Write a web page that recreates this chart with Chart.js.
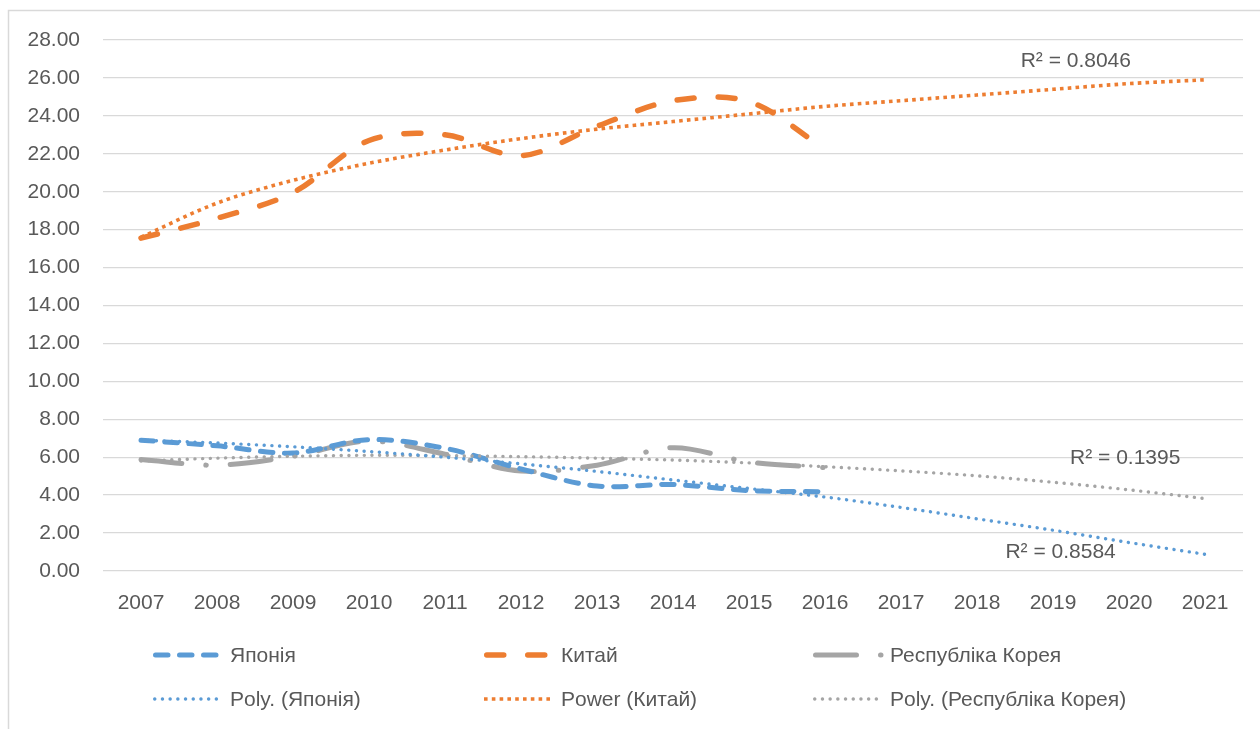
<!DOCTYPE html>
<html>
<head>
<meta charset="utf-8">
<script src="https://cdn.jsdelivr.net/npm/chart.js@4.4.1/dist/chart.umd.min.js"></script>
<style>
  html, body { margin: 0; padding: 0; background: #fff; }
  #wrap { width: 1260px; height: 729px; }
</style>
</head>
<body>
<div id="wrap"><canvas id="chart" width="1260" height="729"></canvas></div>
<script>
// categories
var years = ['2007', '2008', '2009', '2010', '2011', '2012', '2013', '2014',
             '2015', '2016', '2017', '2018', '2019', '2020', '2021'];

// series values (2007-2016)
var japan = [6.9, 6.6, 6.22, 6.93, 6.47, 5.38, 4.48, 4.56, 4.24, 4.18];
var china = [17.55, 18.6, 19.95, 22.7, 23.0, 21.9, 23.45, 24.8, 24.75, 22.25];
var korea = [5.88, 5.58, 6.05, 6.85, 6.16, 5.27, 5.58, 6.5, 5.75, 5.45];

// trendlines (2007-2021)
var japanPoly = [6.9, 6.75, 6.55, 6.3, 6.0, 5.65, 5.25, 4.8, 4.35, 3.9, 3.35, 2.75, 2.15, 1.5, 0.88];
var chinaPower = [17.6, 19.4, 20.6, 21.5, 22.2, 22.8, 23.3, 23.7, 24.1, 24.5, 24.8, 25.1, 25.4, 25.7, 25.9];
var koreaPoly = [5.8, 5.95, 6.05, 6.1, 6.08, 6.03, 5.95, 5.85, 5.7, 5.5, 5.28, 5.02, 4.68, 4.28, 3.82];

// R squared labels
var r2Text = ['R² = 0.8046', 'R² = 0.1395', 'R² = 0.8584'];
var r2Index = [12.3, 12.95, 12.1];
var r2Value = [26.9, 5.96, 0.98];

var BLUE = '#5B9BD5', ORANGE = '#ED7D31', GRAY = '#A5A5A5', TEXT = '#595959';
var FONT = '"Liberation Sans", Arial, sans-serif';

var styles = {
    japan: { color: BLUE, width: 5, dash: [12.5, 11.5], cap: 'round' },
    china: { color: ORANGE, width: 5.5, dash: [17, 24], cap: 'round' },
    korea: { color: GRAY, width: 5, dash: [41, 24, 0.5, 24], cap: 'round' },
    japanPoly: { color: BLUE, width: 3.4, dash: [0.1, 7.6], cap: 'round' },
    chinaPower: { color: ORANGE, width: 3.6, dash: [3.6, 4.2], cap: 'butt' },
    koreaPoly: { color: GRAY, width: 3.4, dash: [0.1, 7.6], cap: 'round' }
};

function makeDataset(label, data, st, order) {
    return {
        label: label,
        data: data,
        borderColor: st.color,
        backgroundColor: st.color,
        borderWidth: st.width,
        borderDash: st.dash,
        borderCapStyle: st.cap,
        pointRadius: 0,
        pointHoverRadius: 0,
        tension: 0.33,
        fill: false,
        order: order
    };
}

var legendRows = [
    [['Японія', styles.japan], ['Китай', styles.china], ['Республіка Корея', styles.korea]],
    [['Poly. (Японія)', styles.japanPoly], ['Power (Китай)', styles.chinaPower], ['Poly. (Республіка Корея)', styles.koreaPoly]]
];

var framePlugin = {
    id: 'frame',
    beforeDraw: function (chart) {
        var ctx = chart.ctx;
        ctx.save();
        ctx.fillStyle = '#fff';
        ctx.fillRect(0, 0, chart.width, chart.height);
        ctx.strokeStyle = '#d9d9d9';
        ctx.lineWidth = 1.5;
        ctx.strokeRect(8.5, 10.5, chart.width + 20, chart.height + 20);
        ctx.restore();
    },
    afterDraw: function (chart) {
        var ctx = chart.ctx;
        var xs = chart.scales.x, ys = chart.scales.y;
        ctx.save();
        ctx.font = '21px ' + FONT;
        ctx.fillStyle = TEXT;
        ctx.textAlign = 'center';
        ctx.textBaseline = 'middle';
        for (var i = 0; i < r2Text.length; i++) {
            ctx.fillText(r2Text[i], xs.getPixelForValue(r2Index[i]), ys.getPixelForValue(r2Value[i]));
        }

        // legend, three columns by two rows
        var colX = [153, 484, 813];
        var rowY = [655, 699];
        ctx.textAlign = 'left';
        legendRows.forEach(function (row, r) {
            row.forEach(function (item, c) {
                var st = item[1];
                var x0 = colX[c], y0 = rowY[r];
                ctx.save();
                ctx.strokeStyle = st.color;
                ctx.lineWidth = st.width;
                ctx.lineCap = st.cap;
                ctx.setLineDash(st.dash);
                ctx.beginPath();
                var pad = st.cap === 'round' ? st.width / 2 : 0;
                var end = x0 + 67 - pad;
                if (st === styles.korea) end = x0 + 69;
                if (st === styles.china) end = x0 + 62;
                ctx.moveTo(x0 + pad, y0);
                ctx.lineTo(end, y0);
                ctx.stroke();
                ctx.restore();
                ctx.fillText(item[0], x0 + 77, y0 + 1);
            });
        });
        ctx.restore();
    }
};

var ctx = document.getElementById('chart').getContext('2d');
new Chart(ctx, {
    type: 'line',
    data: {
        labels: years,
        datasets: [
            makeDataset('Японія', japan, styles.japan, 3),
            makeDataset('Китай', china, styles.china, 3),
            makeDataset('Республіка Корея', korea, styles.korea, 3),
            makeDataset('Poly. (Японія)', japanPoly, styles.japanPoly, 1),
            makeDataset('Power (Китай)', chinaPower, styles.chinaPower, 1),
            makeDataset('Poly. (Республіка Корея)', koreaPoly, styles.koreaPoly, 1)
        ]
    },
    options: {
        responsive: false,
        animation: false,
        layout: { padding: { left: 0, right: 17, top: 40, bottom: 0 } },
        scales: {
            x: {
                offset: true,
                grid: { display: false, drawTicks: false },
                border: { display: false },
                ticks: { color: TEXT, font: { family: FONT, size: 21 }, padding: 20, maxRotation: 0, autoSkip: false },
                afterFit: function (scale) { scale.height = 158; }
            },
            y: {
                min: 0,
                max: 28,
                grid: { color: '#d9d9d9', lineWidth: 1.3, drawTicks: false },
                border: { display: false },
                ticks: {
                    stepSize: 2,
                    color: TEXT,
                    font: { family: FONT, size: 21 },
                    padding: 23,
                    callback: function (v) { return Number(v).toFixed(2); }
                },
                afterFit: function (scale) { scale.width = 103; }
            }
        },
        plugins: {
            legend: { display: false },
            tooltip: { enabled: false }
        }
    },
    plugins: [framePlugin]
});
</script>
</body>
</html>
